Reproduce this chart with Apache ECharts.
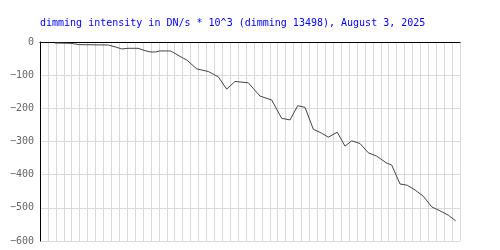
<!DOCTYPE html>
<html>
<head>
<meta charset="utf-8">
<script src="https://cdn.jsdelivr.net/npm/echarts@6/dist/echarts.min.js"></script>
<style>html,body{margin:0;padding:0;background:#fff;}#c{width:500px;height:250px;}</style>
</head>
<body>
<div id="c"></div>
<script>
// x positions in grid-interval units (axis 0..53), y in DN/s * 10^3
var xs = [1.89, 3.91, 4.96, 8.62, 9.68, 10.31, 11.10, 12.37, 13.25, 13.88, 14.6, 15.1, 16.49, 18.08, 18.51, 19.77, 21.24, 22.50, 23.56, 24.61, 26.28, 26.91, 27.76, 29.24, 30.50, 31.55, 32.52, 33.44, 34.49, 35.55, 36.38, 37.51, 38.49, 39.33, 40.38, 41.43, 42.49, 43.66, 44.38, 45.43, 46.35, 47.32, 48.37, 49.43, 50.47, 51.52, 52.45];
var ys = [-3, -4, -8, -9, -16, -21, -19, -19, -26, -30, -30, -27, -27, -49, -54, -81, -89, -105, -142, -119, -123, -140, -163, -175, -230, -235, -192, -197, -263, -275, -287, -272, -314, -298, -306, -334, -344, -364, -371, -428, -432, -446, -465, -497, -509, -522, -539];
var yTicks = [0, -100, -200, -300, -400, -500, -600];
var titleText = 'dimming intensity in DN/s * 10^3 (dimming 13498), August 3, 2025';

var data = xs.map(function (x, i) { return [x, ys[i]]; });
var chart = echarts.init(document.getElementById('c'), null, {renderer: 'canvas'});
chart.setOption({
  animation: false,
  backgroundColor: '#fff',
  title: {
    text: titleText, left: 40, top: 18, padding: 0,
    textStyle: {color: '#0000ff', fontFamily: 'DejaVu Sans Mono', fontSize: 10, fontWeight: 'normal'}
  },
  grid: {left: 40, top: 42, right: 40, bottom: 9},
  xAxis: {
    type: 'value', min: 0, max: 53, interval: 1, position: 'top',
    axisLine: {show: true, onZero: false, lineStyle: {color: '#000', width: 1}},
    axisTick: {show: false}, axisLabel: {show: false},
    splitLine: {show: true, lineStyle: {color: '#d9d9d9', width: 1}}
  },
  yAxis: {
    type: 'value', min: yTicks[yTicks.length - 1], max: yTicks[0], interval: 100,
    axisLine: {show: true, lineStyle: {color: '#000', width: 1}},
    axisTick: {show: false},
    axisLabel: {
      color: '#666', fontFamily: 'DejaVu Sans Mono', fontSize: 10, margin: 6,
      formatter: function (v) { return String(v).replace('-', '\u2212'); }
    },
    splitLine: {show: true, lineStyle: {color: '#d9d9d9', width: 1}}
  },
  series: [{
    type: 'line', data: data, showSymbol: false, symbol: 'none',
    lineStyle: {color: '#444', width: 1}, z: 5
  }]
});
</script>
</body>
</html>
